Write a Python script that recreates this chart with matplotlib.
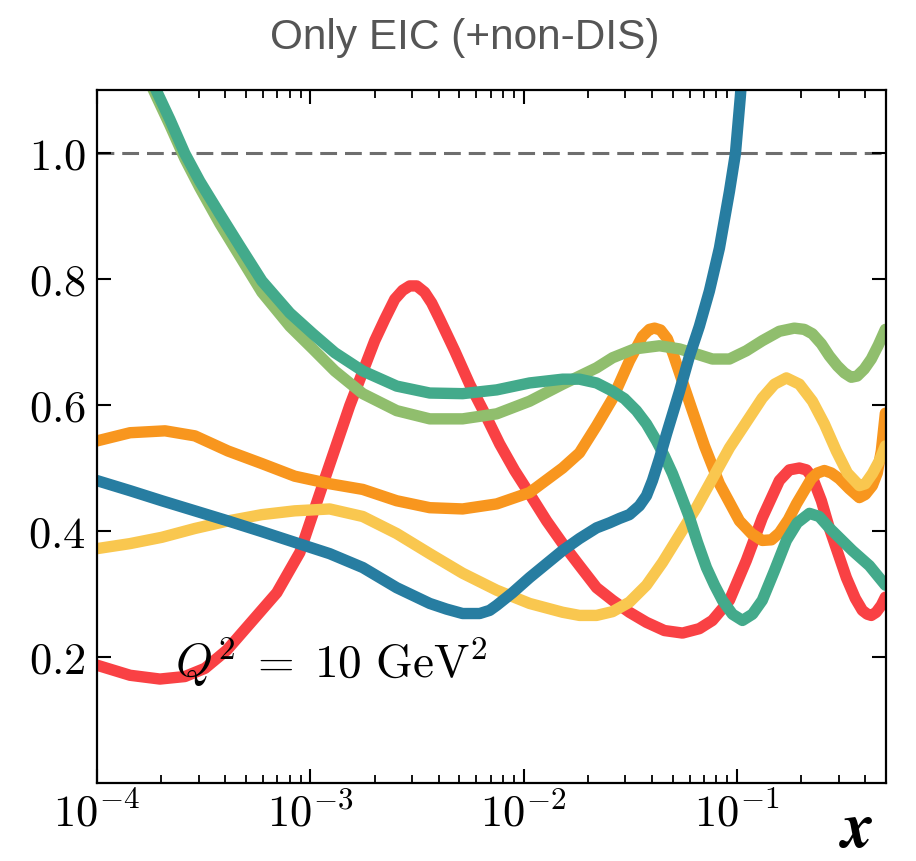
import numpy as np
import matplotlib
matplotlib.use("Agg")
import matplotlib.pyplot as plt
from matplotlib.ticker import FixedLocator, FixedFormatter, LogLocator, NullFormatter

plt.rcParams['mathtext.fontset'] = 'cm'

# ---- data (log10 x, value) ----
red_lx = [-4.000, -3.845, -3.705, -3.588, -3.494, -3.391, -3.283, -3.157, -3.049, -2.932,
          -2.815, -2.698, -2.651, -2.604, -2.567, -2.534, -2.501, -2.464, -2.431, -2.393,
          -2.323, -2.253, -2.183, -2.112, -2.042, -1.972, -1.892, -1.817, -1.738, -1.658,
          -1.583, -1.504, -1.424, -1.340, -1.255, -1.176, -1.115, -1.035, -0.956, -0.881,
          -0.801, -0.754, -0.707, -0.674, -0.646, -0.604, -0.567, -0.487, -0.445, -0.412,
          -0.389, -0.370, -0.347, -0.323, -0.304]
red_y = [0.187, 0.171, 0.165, 0.169, 0.182, 0.211, 0.253, 0.302, 0.366, 0.483,
         0.599, 0.702, 0.736, 0.768, 0.782, 0.789, 0.789, 0.779, 0.762, 0.736,
         0.686, 0.633, 0.587, 0.538, 0.496, 0.459, 0.416, 0.380, 0.345, 0.310,
         0.290, 0.271, 0.255, 0.242, 0.238, 0.245, 0.258, 0.290, 0.353, 0.421,
         0.480, 0.497, 0.500, 0.497, 0.485, 0.448, 0.405, 0.326, 0.293, 0.274,
         0.268, 0.266, 0.271, 0.282, 0.295]

orange_lx = [-4.000, -3.845, -3.681, -3.541, -3.386, -3.227, -3.073, -2.909, -2.754, -2.595,
             -2.440, -2.286, -2.126, -1.972, -1.817, -1.738, -1.658, -1.583, -1.504, -1.443,
             -1.410, -1.386, -1.358, -1.326, -1.297, -1.269, -1.213, -1.152, -1.082, -0.988,
             -0.932, -0.881, -0.838, -0.801, -0.759, -0.721, -0.651, -0.623, -0.590, -0.557,
             -0.520, -0.473, -0.426, -0.398, -0.365, -0.342, -0.323, -0.304]
orange_y = [0.543, 0.556, 0.559, 0.551, 0.527, 0.507, 0.487, 0.475, 0.466, 0.448,
            0.437, 0.435, 0.443, 0.461, 0.500, 0.524, 0.567, 0.610, 0.670, 0.709,
            0.720, 0.722, 0.719, 0.705, 0.679, 0.651, 0.595, 0.535, 0.475, 0.416,
            0.396, 0.385, 0.386, 0.397, 0.418, 0.443, 0.483, 0.492, 0.496, 0.492,
            0.483, 0.467, 0.453, 0.458, 0.472, 0.492, 0.527, 0.587]

yellow_lx = [-4.000, -3.845, -3.696, -3.541, -3.386, -3.227, -3.073, -2.909, -2.754, -2.595,
             -2.440, -2.286, -2.126, -1.972, -1.817, -1.738, -1.658, -1.583, -1.504, -1.424,
             -1.349, -1.190, -1.035, -0.881, -0.824, -0.768, -0.707, -0.646, -0.590, -0.534,
             -0.482, -0.426, -0.398, -0.365, -0.333, -0.304]
yellow_y = [0.372, 0.380, 0.390, 0.404, 0.416, 0.426, 0.432, 0.435, 0.423, 0.396,
            0.364, 0.333, 0.306, 0.285, 0.271, 0.266, 0.266, 0.272, 0.287, 0.314,
            0.350, 0.437, 0.532, 0.611, 0.633, 0.643, 0.633, 0.606, 0.570, 0.527,
            0.492, 0.472, 0.475, 0.491, 0.511, 0.535]

green_lx = [-3.775, -3.719, -3.658, -3.588, -3.518, -3.424, -3.330, -3.227, -3.096, -2.988,
            -2.885, -2.754, -2.595, -2.440, -2.286, -2.126, -1.972, -1.817, -1.658, -1.583,
            -1.480, -1.363, -1.269, -1.190, -1.115, -1.035, -0.956, -0.881, -0.801, -0.731,
            -0.684, -0.646, -0.604, -0.567, -0.529, -0.496, -0.464, -0.436, -0.403, -0.370,
            -0.337, -0.304]
green_y = [1.129, 1.088, 1.044, 0.991, 0.945, 0.888, 0.836, 0.779, 0.725, 0.689,
           0.654, 0.618, 0.591, 0.578, 0.578, 0.586, 0.606, 0.633, 0.659, 0.675,
           0.689, 0.694, 0.689, 0.681, 0.673, 0.673, 0.686, 0.702, 0.717, 0.722,
           0.720, 0.713, 0.697, 0.678, 0.662, 0.651, 0.644, 0.646, 0.657, 0.673,
           0.695, 0.720]

teal_lx = [-3.775, -3.719, -3.658, -3.588, -3.518, -3.424, -3.330, -3.227, -3.096, -2.988,
           -2.885, -2.754, -2.595, -2.440, -2.286, -2.126, -1.972, -1.817, -1.738, -1.658,
           -1.583, -1.527, -1.471, -1.424, -1.377, -1.340, -1.302, -1.265, -1.222, -1.185,
           -1.143, -1.105, -1.068, -1.021, -0.974, -0.927, -0.881, -0.824, -0.768, -0.717,
           -0.660, -0.614, -0.567, -0.459, -0.379, -0.304]
teal_y = [1.140, 1.097, 1.053, 0.999, 0.955, 0.903, 0.852, 0.797, 0.746, 0.713,
          0.683, 0.654, 0.630, 0.619, 0.618, 0.624, 0.635, 0.641, 0.641, 0.635,
          0.622, 0.610, 0.591, 0.570, 0.543, 0.519, 0.491, 0.459, 0.421, 0.382,
          0.342, 0.314, 0.290, 0.268, 0.258, 0.268, 0.290, 0.337, 0.385, 0.413,
          0.428, 0.423, 0.405, 0.369, 0.345, 0.314]

blue_lx = [-4.000, -3.845, -3.696, -3.541, -3.386, -3.227, -3.073, -2.909, -2.754, -2.595,
           -2.440, -2.361, -2.286, -2.206, -2.159, -2.126, -2.052, -1.972, -1.817, -1.738,
           -1.658, -1.597, -1.550, -1.504, -1.457, -1.424, -1.396, -1.363, -1.330, -1.269,
           -1.222, -1.176, -1.129, -1.082, -1.035, -1.007, -0.984, -0.965]
blue_y = [0.480, 0.464, 0.448, 0.432, 0.416, 0.399, 0.382, 0.364, 0.342, 0.310,
          0.285, 0.276, 0.269, 0.269, 0.274, 0.282, 0.302, 0.326, 0.369, 0.388,
          0.405, 0.413, 0.420, 0.426, 0.440, 0.456, 0.480, 0.515, 0.554, 0.622,
          0.678, 0.725, 0.781, 0.849, 0.939, 0.999, 1.089, 1.177]

series = [
    (red_lx, red_y, '#F94144'),
    (orange_lx, orange_y, '#F8961E'),
    (yellow_lx, yellow_y, '#F9C74F'),
    (green_lx, green_y, '#90BE6D'),
    (teal_lx, teal_y, '#43AA8B'),
    (blue_lx, blue_y, '#277DA1'),
]

xtick_values = [1e-4, 1e-3, 1e-2, 1e-1]
xtick_labels = [r'$10^{-4}$', r'$10^{-3}$', r'$10^{-2}$', r'$10^{-1}$']
ytick_values = [0.2, 0.4, 0.6, 0.8, 1.0]
ytick_labels = [r'$0.2$', r'$0.4$', r'$0.6$', r'$0.8$', r'$1.0$']

# ---- figure ----
fig = plt.figure(figsize=(9.16, 8.61), dpi=100)
ax = fig.add_axes([97/916, 78/861, 789/916, 693/861])

ax.axhline(1.0, color='#6e6e6e', lw=2.2, ls=(0, (5.5, 2.6)), zorder=1)

for lx, y, c in series:
    ax.plot(10**np.array(lx), y, color=c, lw=8.2, solid_capstyle='round',
            solid_joinstyle='round', zorder=2)

ax.set_xscale('log')
ax.set_xlim(1e-4, 0.5)
ax.set_ylim(0, 1.1)

ax.xaxis.set_major_locator(FixedLocator(xtick_values))
ax.xaxis.set_major_formatter(FixedFormatter(xtick_labels))
ax.xaxis.set_minor_locator(LogLocator(base=10, subs=np.arange(2, 10), numticks=20))
ax.xaxis.set_minor_formatter(NullFormatter())
ax.yaxis.set_major_locator(FixedLocator(ytick_values))
ax.yaxis.set_major_formatter(FixedFormatter(ytick_labels))

ax.tick_params(which='both', direction='in', top=True, right=True, color='black')
ax.tick_params(which='major', length=10, width=1.5, labelsize=32)
ax.tick_params(which='minor', length=5.5, width=1.3)
ax.tick_params(axis='y', pad=8)
ax.tick_params(axis='x', pad=7)
for s in ax.spines.values():
    s.set_linewidth(1.6)

ax.text(0.099, 0.151, r'$Q^2\;=\;10\ \mathrm{GeV}^2$', transform=ax.transAxes,
        fontsize=34, ha='left', va='baseline', zorder=5)

fig.text(465/916, 1 - 38/861, 'Only EIC (+non-DIS)', ha='center', va='center',
         fontsize=30.5, color='#555555', family='Liberation Sans')

fig.text(858/916, 1 - 847/861, 'x', ha='center', va='baseline', fontsize=46,
         family='STIXGeneral', weight='bold', style='italic')

fig.savefig('out.png', dpi=100)
